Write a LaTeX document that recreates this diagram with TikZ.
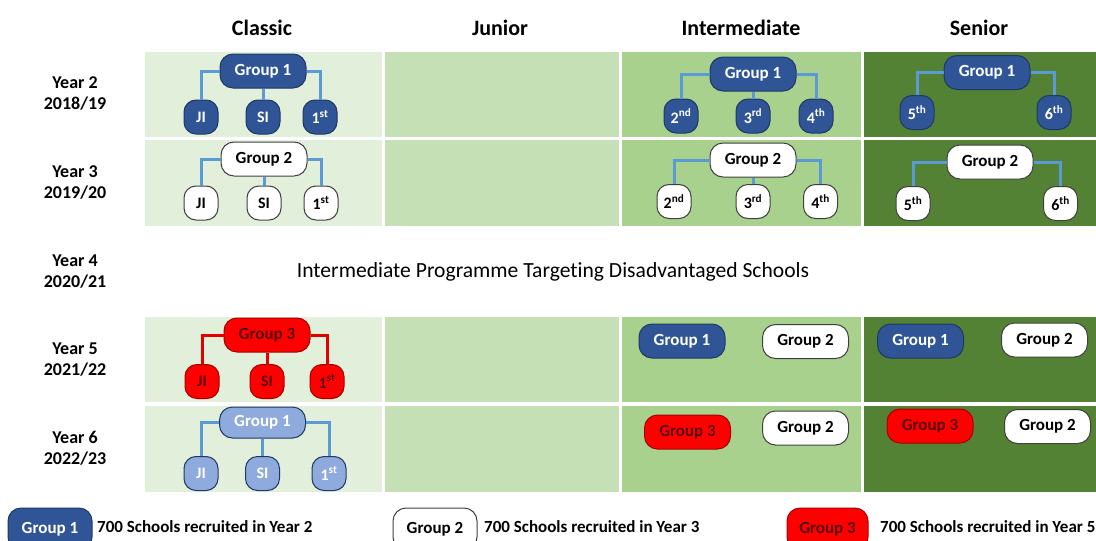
\documentclass[tikz,border=0pt]{standalone}
\usepackage{fontspec}
\setmainfont{Carlito}[Ligatures=NoCommon]
\usepackage{xcolor}
\definecolor{cellclassic}{HTML}{E2EFDA}
\definecolor{celljunior}{HTML}{C5E0B4}
\definecolor{cellinter}{HTML}{A9D18E}
\definecolor{cellsenior}{HTML}{548235}
\definecolor{grpblue}{HTML}{2F5597}
\definecolor{grpedge}{HTML}{203864}
\definecolor{paleblue}{HTML}{8FAADC}
\definecolor{linkblue}{HTML}{5B9BD5}
\definecolor{redge}{HTML}{A50000}
\definecolor{redtext}{HTML}{5A0000}
\usetikzlibrary{positioning}

\begin{document}
\begin{tikzpicture}[x=1pt,y=-1pt,
  grp/.style={rounded corners=13pt,minimum width=86pt,minimum height=34pt,line width=1pt,inner sep=0pt,font=\bfseries\fontsize{17}{19}\selectfont},
  kid/.style={rounded corners=12pt,minimum width=34pt,minimum height=34pt,line width=1pt,inner sep=0pt,font=\bfseries\fontsize{16}{18}\selectfont},
  gone/.style={fill=grpblue,draw=grpedge,text=white},
  gtwo/.style={fill=white,draw=black!75,text=black},
  gthree/.style={fill=red,draw=redge,text=redtext},
  gpale/.style={fill=paleblue,draw=grpedge,text=white},
  link/.style={linkblue,line width=3pt},
  redlink/.style={red!90!black,line width=3pt},
  hdr/.style={font=\bfseries\fontsize{22}{24}\selectfont},
  yr/.style={align=center,font=\bfseries\fontsize{18}{21}\selectfont},
  legtext/.style={anchor=west,inner sep=0pt,font=\bfseries\fontsize{17}{19}\selectfont}]
  \path[use as bounding box,clip] (0,0) rectangle (1096,541);

  % cells
  \foreach \ya/\yb in {52/137,140/226,317/402,406/492}{
    \fill[cellclassic] (145,\ya) rectangle (382,\yb);
    \fill[celljunior] (385,\ya) rectangle (619,\yb);
    \fill[cellinter] (622,\ya) rectangle (861,\yb);
    \fill[cellsenior] (864,\ya) rectangle (1096,\yb);
  }

  \node[hdr] (hclassic) at (262,28) {Classic};
  \node[hdr] (hjunior) at (500,28) {Junior};
  \node[hdr] (hinter) at (741,28) {Intermediate};
  \node[hdr] (hsenior) at (979,28) {Senior};

  \node[yr] (y2) at (75,93.5) {Year 2\\2018/19};
  \node[yr] (y3) at (75,182.5) {Year 3\\2019/20};
  \node[yr] (y4) at (75,272) {Year 4\\2020/21};
  \node[yr] (y5) at (75,359.5) {Year 5\\2021/22};
  \node[yr] (y6) at (75,448) {Year 6\\2022/23};

  % year 2
  \node[grp,gone] (c2g) at (263,71) {Group 1};
  \node[kid,gone] (c2a) at (201,117) {JI};
  \node[kid,gone] (c2b) at (263,117) {SI};
  \node[kid,gone] (c2c) at (320,117) {1\textsuperscript{st}};
  \draw[link] (c2g.west) -| (c2a.north);
  \draw[link] (c2g.south) -- (c2b.north);
  \draw[link] (c2g.east) -| (c2c.north);

  \node[grp,gone] (i2g) at (753,74) {Group 1};
  \node[kid,gone] (i2a) at (681,116) {2\textsuperscript{nd}};
  \node[kid,gone] (i2b) at (753,116) {3\textsuperscript{rd}};
  \node[kid,gone] (i2c) at (816,116) {4\textsuperscript{th}};
  \draw[link] (i2g.west) -| (i2a.north);
  \draw[link] (i2g.south) -- (i2b.north);
  \draw[link] (i2g.east) -| (i2c.north);

  \node[grp,gone] (s2g) at (987,72.5) {Group 1};
  \node[kid,gone] (s2a) at (917,112.5) {5\textsuperscript{th}};
  \node[kid,gone] (s2b) at (1054,112.5) {6\textsuperscript{th}};
  \draw[link] (s2g.west) -| (s2a.north);
  \draw[link] (s2g.east) -| (s2b.north);

  % year 3
  \node[grp,gtwo] (c3g) at (264,159) {Group 2};
  \node[kid,gtwo] (c3a) at (201,203) {JI};
  \node[kid,gtwo] (c3b) at (264,203) {SI};
  \node[kid,gtwo] (c3c) at (321,203) {1\textsuperscript{st}};
  \draw[link] (c3g.west) -| (c3a.north);
  \draw[link] (c3g.south) -- (c3b.north);
  \draw[link] (c3g.east) -| (c3c.north);

  \node[grp,gtwo] (i3g) at (753,160) {Group 2};
  \node[kid,gtwo] (i3a) at (674,201.5) {2\textsuperscript{nd}};
  \node[kid,gtwo] (i3b) at (753,201.5) {3\textsuperscript{rd}};
  \node[kid,gtwo] (i3c) at (820.5,201.5) {4\textsuperscript{th}};
  \draw[link] (i3g.west) -| (i3a.north);
  \draw[link] (i3g.south) -- (i3b.north);
  \draw[link] (i3g.east) -| (i3c.north);

  \node[grp,gtwo] (s3g) at (990,162) {Group 2};
  \node[kid,gtwo] (s3a) at (913,203.5) {5\textsuperscript{th}};
  \node[kid,gtwo] (s3b) at (1060.5,203.5) {6\textsuperscript{th}};
  \draw[link] (s3g.west) -| (s3a.north);
  \draw[link] (s3g.east) -| (s3b.north);

  % year 4
  \node[font=\fontsize{21.6}{24}\selectfont] (note) at (553,272) {Intermediate Programme Targeting Disadvantaged Schools};

  % year 5
  \node[grp,gthree] (c5g) at (267,335) {Group 3};
  \node[kid,gthree] (c5a) at (202,381.5) {JI};
  \node[kid,gthree] (c5b) at (267,381.5) {SI};
  \node[kid,gthree] (c5c) at (327,381.5) {1\textsuperscript{st}};
  \draw[redlink] (c5g.west) -| (c5a.north);
  \draw[redlink] (c5g.south) -- (c5b.north);
  \draw[redlink] (c5g.east) -| (c5c.north);

  \node[grp,gone] (i5a) at (682,341) {Group 1};
  \node[grp,gtwo] (i5b) at (805.5,341.5) {Group 2};
  \node[grp,gone] (s5a) at (920.5,341) {Group 1};
  \node[grp,gtwo] (s5b) at (1044.5,340) {Group 2};

  % year 6
  \node[grp,gpale,minimum height=31pt] (c6g) at (262.5,422.5) {Group 1};
  \node[kid,gpale] (c6a) at (201,473.5) {JI};
  \node[kid,gpale] (c6b) at (262.5,473.5) {SI};
  \node[kid,gpale] (c6c) at (329,473.5) {1\textsuperscript{st}};
  \draw[link] (c6g.west) -| (c6a.north);
  \draw[link] (c6g.south) -- (c6b.north);
  \draw[link] (c6g.east) -| (c6c.north);

  \node[grp,gthree] (i6a) at (687.5,432) {Group 3};
  \node[grp,gtwo] (i6b) at (805.5,428) {Group 2};
  \node[grp,gthree] (s6a) at (930,426) {Group 3};
  \node[grp,gtwo] (s6b) at (1047.5,426.5) {Group 2};

  % legend
  \node[grp,gone,minimum width=84pt,minimum height=42pt] (lg1) at (50,529) {Group 1};
  \node[legtext] (lt1) at (97,527) {700 Schools recruited in Year 2};
  \node[grp,gtwo,minimum width=84pt,minimum height=42pt] (lg2) at (435,529) {Group 2};
  \node[legtext] (lt2) at (484,527) {700 Schools recruited in Year 3};
  \node[grp,gthree,minimum width=81pt,minimum height=42pt] (lg3) at (827.5,529) {Group 3};
  \node[legtext] (lt3) at (880,527) {700 Schools recruited in Year 5};
\end{tikzpicture}
\end{document}
